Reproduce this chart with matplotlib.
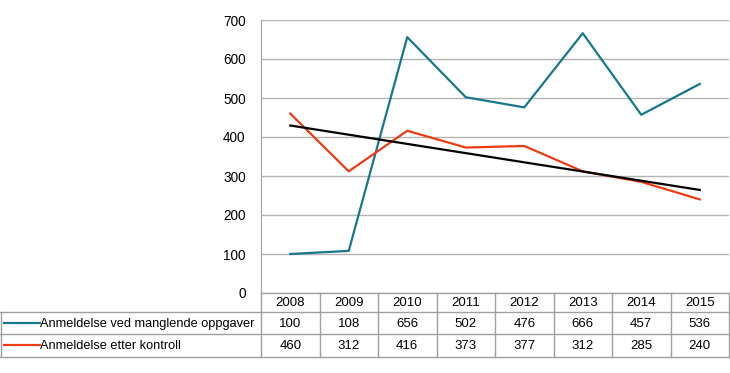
import numpy as np
import matplotlib.pyplot as plt

plt.rcParams['font.family'] = ['Liberation Sans', 'DejaVu Sans']

# Data
years = ['2008', '2009', '2010', '2011', '2012', '2013', '2014', '2015']
oppgaver = [100, 108, 656, 502, 476, 666, 457, 536]
kontroll = [460, 312, 416, 373, 377, 312, 285, 240]
series_names = ['Anmeldelse ved manglende oppgaver', 'Anmeldelse etter kontroll']
colors = ['#17788b', '#ee3b14']

W, H = 730, 373
fig = plt.figure(figsize=(W / 100, H / 100), dpi=100)

# plot area in pixels
left, right, top, bottom = 261, 729, 20, 293
ax = fig.add_axes([left / W, 1 - bottom / H, (right - left) / W, (bottom - top) / H])

x = np.arange(len(years))
ax.plot(x, oppgaver, color=colors[0], lw=1.6, zorder=3)
ax.plot(x, kontroll, color=colors[1], lw=1.6, zorder=3)

# linear trend of kontroll
k, m = np.polyfit(x, kontroll, 1)
ax.plot(x, k * x + m, color='black', lw=1.6, zorder=4)

ax.set_xlim(-0.5, len(years) - 0.5)
ax.set_ylim(0, 700)
ax.set_yticks(range(0, 701, 100))
ax.set_xticks([])
ax.grid(axis='y', color='#b4b4b4', lw=1)
ax.set_axisbelow(True)
for s in ['top', 'right', 'bottom']:
    ax.spines[s].set_visible(False)
ax.spines['left'].set_color('#a0a0a0')
ax.tick_params(axis='y', length=0, pad=11, labelsize=9.8)

# table drawn in pixel coordinates on an overlay
tab = fig.add_axes([0, 0, 1, 1])
tab.set_xlim(0, W)
tab.set_ylim(H, 0)
tab.axis('off')

lc = '#a0a0a0'
col_w = (right - left) / len(years)
y_hdr, y_r1, y_r2, y_end = bottom, 311.5, 334, 356.5

# horizontal lines
tab.plot([left, right], [y_hdr, y_hdr], color=lc, lw=1)
for yy in [y_r1, y_r2, y_end]:
    tab.plot([0, right], [yy, yy], color=lc, lw=1)
# vertical lines
tab.plot([1, 1], [y_r1, y_end], color=lc, lw=1)
for i in range(len(years) + 1):
    xx = left + i * col_w
    tab.plot([xx, xx], [y_hdr, y_end], color=lc, lw=1)

fs = 9.5
for i, yr in enumerate(years):
    cx = left + (i + 0.5) * col_w
    tab.text(cx, (y_hdr + y_r1) / 2 + 1, yr, ha='center', va='center', fontsize=fs)
    tab.text(cx, (y_r1 + y_r2) / 2 + 1, str(oppgaver[i]), ha='center', va='center', fontsize=fs)
    tab.text(cx, (y_r2 + y_end) / 2 + 1, str(kontroll[i]), ha='center', va='center', fontsize=fs)

for j, (name, c) in enumerate(zip(series_names, colors)):
    yc = [(y_r1 + y_r2) / 2, (y_r2 + y_end) / 2][j]
    tab.plot([4, 40], [yc, yc], color=c, lw=1.6)
    tab.text(40, yc + 1, name, ha='left', va='center', fontsize=9.2)

fig.savefig('out.png', dpi=100)
